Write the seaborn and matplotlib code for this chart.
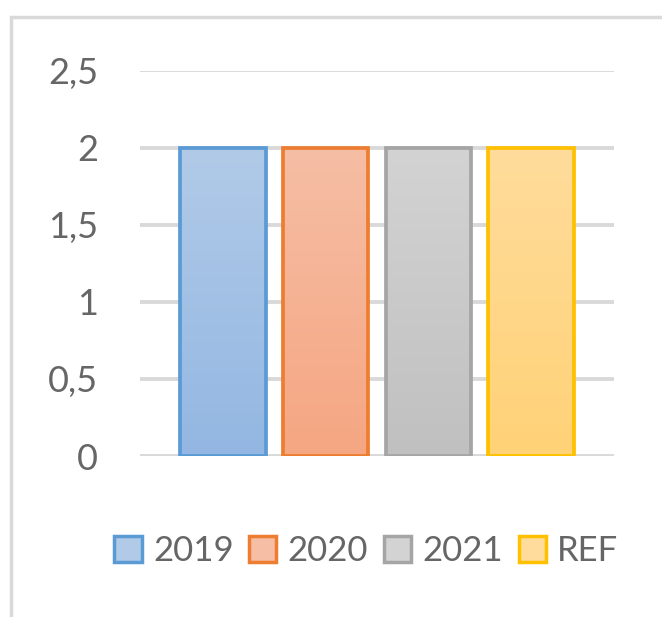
import matplotlib
matplotlib.use('Agg')
import matplotlib.pyplot as plt
from matplotlib.colors import LinearSegmentedColormap
from matplotlib.patches import Patch, Rectangle
import numpy as np
import pandas as pd
import seaborn as sns

# data
years = ['2019', '2020', '2021', 'REF']
values = [2, 2, 2, 2]
tick_vals = [0, 0.5, 1, 1.5, 2, 2.5]
tick_labels = ['0', '0,5', '1', '1,5', '2', '2,5']

# colours (edge, gradient top, gradient bottom)
edge_colors = ['#5b9bd5', '#ed7d31', '#a5a5a5', '#ffc000']
top_colors = ['#b1cae8', '#f6bea5', '#d3d3d3', '#ffdc9c']
bot_colors = ['#93b7e2', '#f5a682', '#c0c0c0', '#ffd277']

sns.set_style('white')
plt.rcParams['font.family'] = ['Lato', 'DejaVu Sans']
text_color = '#666666'

df = pd.DataFrame({'year': years, 'value': values})

fig = plt.figure(figsize=(6.62, 6.17), dpi=100)
ax = fig.add_axes([140/662, (617-456)/617, (614-140)/662, (456-70.5)/617])

sns.barplot(data=df, x='year', y='value', hue='year', palette=edge_colors,
            width=0.83, legend=False, ax=ax)

# gradient fill clipped to each bar
grad = np.linspace(0, 1, 256)[:, None]
for patch, ec, top, bot in zip(ax.patches, edge_colors, top_colors, bot_colors):
    patch.set_facecolor('none')
    patch.set_edgecolor(ec)
    patch.set_linewidth(2.7)
    patch.set_zorder(3)
    x0, y0 = patch.get_x(), patch.get_y()
    w, h = patch.get_width(), patch.get_height()
    cmap = LinearSegmentedColormap.from_list('g', [bot, top])
    im = ax.imshow(grad, cmap=cmap, extent=[x0, x0 + w, y0, y0 + h],
                   origin='lower', aspect='auto', zorder=2)
    im.set_clip_path(patch)

ax.set_xlim(-0.808, 3.807)
ax.set_ylim(0, 2.5)
ax.set_yticks(tick_vals)
ax.set_yticklabels(tick_labels)
ax.set_xticks([])
ax.set_xlabel('')
ax.set_ylabel('')
ax.tick_params(axis='y', length=0, pad=30, labelsize=26, labelcolor=text_color)
ax.yaxis.grid(True, color='#d9d9d9', linewidth=2.8)
ax.set_axisbelow(True)
sns.despine(ax=ax, left=True, bottom=True)

# legend
handles = [Patch(facecolor=c, edgecolor=e, linewidth=2.5)
           for c, e in zip(top_colors, edge_colors)]
leg = fig.legend(handles, years, loc='center', bbox_to_anchor=(0.5536, 0.107),
                 ncol=4, frameon=False, fontsize=25, handlelength=0.78,
                 handleheight=0.78, handletextpad=0.33, columnspacing=0.45,
                 borderpad=0)
for t in leg.get_texts():
    t.set_color(text_color)

# chart border (runs off right and bottom like the source crop)
fig.patches.append(Rectangle((11/662, -0.1), 1.2, 1.1 - 16.5/617,
                             transform=fig.transFigure, fill=False,
                             edgecolor='#d9d9d9', linewidth=2.5))

fig.savefig('out.png', dpi=100)
